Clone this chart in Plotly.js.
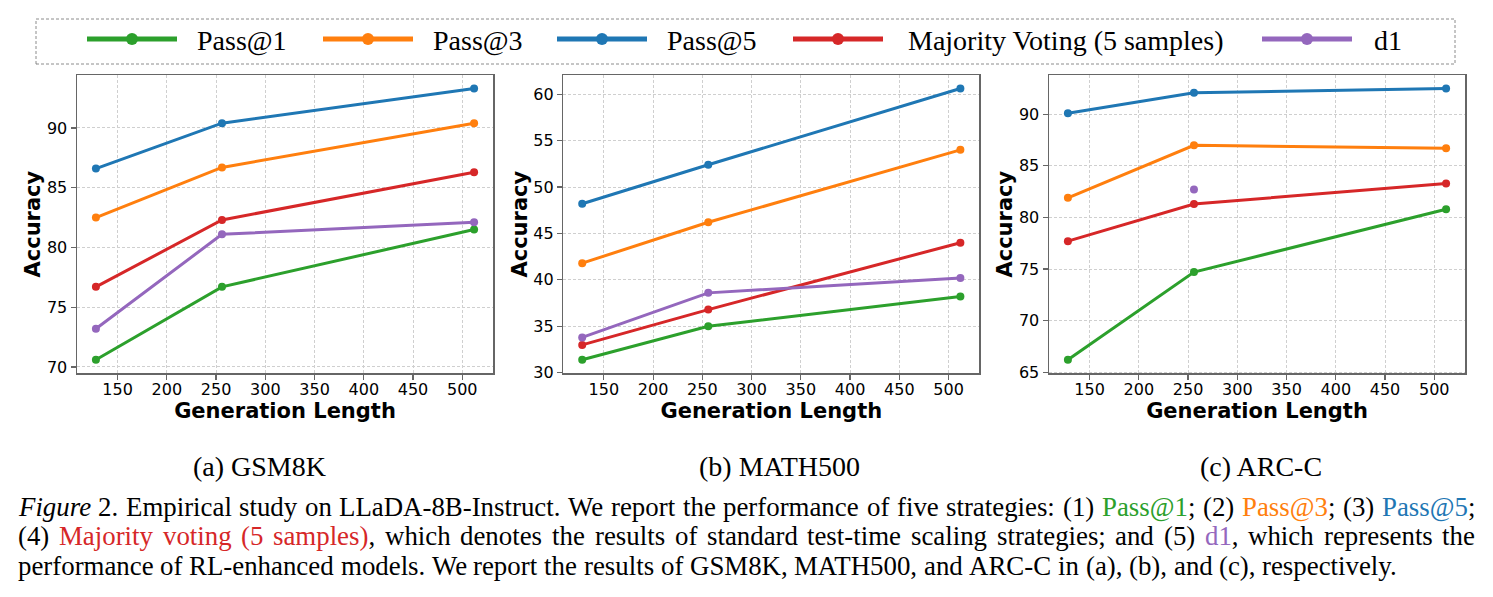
<!DOCTYPE html>
<html>
<head>
<meta charset="utf-8">
<script src="https://cdn.plot.ly/plotly-3.0.1.min.js"></script>
<style>
  html, body { margin: 0; padding: 0; background: #fff; }
  #chart { width: 1493px; height: 597px; }
</style>
</head>
<body>
<div id="chart"></div>
<script>
// ---------------- data ----------------
const genLengths = [128, 256, 512];
const xTicks = [150, 200, 250, 300, 350, 400, 450, 500];

const seriesNames = ["Pass@1", "Pass@3", "Pass@5", "Majority Voting (5 samples)", "d1"];
const seriesColors = ["#2ca02c", "#ff7f0e", "#1f77b4", "#d62728", "#9467bd"];

const gsmPass1 = [70.6, 76.7, 81.5];
const gsmPass3 = [82.5, 86.7, 90.4];
const gsmPass5 = [86.6, 90.4, 93.3];
const gsmMajority = [76.7, 82.3, 86.3];
const gsmD1 = [73.2, 81.1, 82.1];

const mathPass1 = [31.4, 35.0, 38.2];
const mathPass3 = [41.8, 46.2, 54.0];
const mathPass5 = [48.2, 52.4, 60.6];
const mathMajority = [33.0, 36.8, 44.0];
const mathD1 = [33.8, 38.6, 40.2];

const arcPass1 = [66.2, 74.7, 80.8];
const arcPass3 = [81.9, 87.0, 86.7];
const arcPass5 = [90.1, 92.1, 92.5];
const arcMajority = [77.7, 81.3, 83.3];
const arcD1 = [null, 82.7, null];

const gsmYTicks = [70, 75, 80, 85, 90];
const mathYTicks = [30, 35, 40, 45, 50, 55, 60];
const arcYTicks = [65, 70, 75, 80, 85, 90];

const panelLabels = ["(a) GSM8K", "(b) MATH500", "(c) ARC-C"];

// ---------------- layout helpers ----------------
const W = 1493, H = 597;
const px = v => v / W;
const py = v => 1 - v / H;

const panels = [
  { series: [gsmPass1, gsmPass3, gsmPass5, gsmMajority, gsmD1], yticks: gsmYTicks, left: 77, right: 493, labelX: 259 },
  { series: [mathPass1, mathPass3, mathPass5, mathMajority, mathD1], yticks: mathYTicks, left: 563.3, right: 979.3, labelX: 779 },
  { series: [arcPass1, arcPass3, arcPass5, arcMajority, arcD1], yticks: arcYTicks, left: 1049, right: 1465, labelX: 1261 }
];
const plotTop = 75, plotBottom = 373.3;

function padRange(vals) {
  const v = vals.filter(d => d !== null && d !== undefined);
  const lo = Math.min(...v), hi = Math.max(...v);
  const p = (hi - lo) * 0.05;
  return [lo - p, hi + p];
}

const traces = [];
const layout = {
  width: W, height: H,
  margin: { l: 0, r: 0, t: 0, b: 0, pad: 0 },
  paper_bgcolor: "#ffffff",
  plot_bgcolor: "#ffffff",
  showlegend: false,
  shapes: [],
  annotations: []
};

const tickFont = { family: "DejaVu Sans", size: 16, color: "#000" };
const titleFont = { family: "DejaVu Sans", size: 21, color: "#000", weight: "bold" };

panels.forEach((p, i) => {
  const n = i === 0 ? "" : String(i + 1);
  p.series.forEach((vals, s) => {
    traces.push({
      type: "scatter",
      mode: "lines+markers",
      x: genLengths,
      y: vals,
      name: seriesNames[s],
      xaxis: "x" + n,
      yaxis: "y" + n,
      line: { color: seriesColors[s], width: 3 },
      marker: { color: seriesColors[s], size: 8 },
      connectgaps: false
    });
  });
  const xr = padRange(genLengths);
  const yr = padRange([].concat(...p.series));
  const axCommon = {
    showline: true, mirror: true, linecolor: "#666", linewidth: 1.5,
    ticks: "outside", ticklen: 5, tickwidth: 1.2, tickcolor: "#666",
    showgrid: true, gridcolor: "#cfcfcf", gridwidth: 1, griddash: "3px,2px",
    zeroline: false, tickfont: tickFont, fixedrange: true
  };
  layout["xaxis" + n] = Object.assign({}, axCommon, {
    domain: [px(p.left), px(p.right)],
    range: xr, tickmode: "array", tickvals: xTicks,
    anchor: "y" + n, ticklabelstandoff: -4,
    title: { text: "Generation Length", font: titleFont, standoff: 3 }
  });
  layout["yaxis" + n] = Object.assign({}, axCommon, {
    domain: [py(plotBottom), py(plotTop)],
    range: yr, tickmode: "array", tickvals: p.yticks,
    anchor: "x" + n,
    title: { text: "Accuracy", font: titleFont, standoff: 0 }
  });
  layout.annotations.push({
    xref: "paper", yref: "paper", x: px(p.labelX), y: py(466),
    xanchor: "center", yanchor: "middle", showarrow: false,
    text: panelLabels[i],
    font: { family: "Liberation Serif", size: 28, color: "#000" }
  });
});

// ---------------- legend (drawn in a dashed box above the panels) ----------------
layout.shapes.push({
  type: "rect", xref: "paper", yref: "paper",
  x0: px(36), x1: px(1455), y0: py(64), y1: py(19),
  line: { color: "#8c8c8c", width: 1, dash: "3px,2px" }, fillcolor: "rgba(0,0,0,0)"
});
const legendLineStart = [87, 323, 557, 793, 1262];
const legendTextStart = [195, 431, 665, 906, 1372];
const legendY = 39;
seriesNames.forEach((name, s) => {
  const x0 = legendLineStart[s], x1 = x0 + 90, xm = (x0 + x1) / 2;
  layout.shapes.push({
    type: "line", xref: "paper", yref: "paper",
    x0: px(x0), x1: px(x1), y0: py(legendY), y1: py(legendY),
    line: { color: seriesColors[s], width: 5 }
  });
  layout.shapes.push({
    type: "circle", xref: "paper", yref: "paper",
    x0: px(xm - 6), x1: px(xm + 6), y0: py(legendY + 6), y1: py(legendY - 6),
    line: { width: 0 }, fillcolor: seriesColors[s]
  });
  layout.annotations.push({
    xref: "paper", yref: "paper", x: px(legendTextStart[s]), y: py(40),
    xanchor: "left", yanchor: "middle", showarrow: false,
    text: name, font: { family: "Liberation Serif", size: 28, color: "#000" }
  });
});

// ---------------- figure caption ----------------
const capSize = 26.85;
const capFamily = "Liberation Serif";
const capLeft = 17, capRight = 1474;
const C = seriesColors;
const captionLines = [
  { y: 507, justify: true, parts: [
    ["Figure", "#000", true], [" 2. Empirical study on LLaDA-8B-Instruct. We report the performance of five strategies: (1) ", "#000"],
    ["Pass@1", C[0]], ["; (2) ", "#000"], ["Pass@3", C[1]], ["; (3) ", "#000"], ["Pass@5", C[2]], [";", "#000"] ] },
  { y: 536, justify: true, parts: [
    ["(4) ", "#000"], ["Majority voting (5 samples)", C[3]],
    [", which denotes the results of standard test-time scaling strategies; and (5) ", "#000"],
    ["d1", C[4]], [", which represents the", "#000"] ] },
  { y: 566, justify: false, parts: [
    ["performance of RL-enhanced models. We report the results of GSM8K, MATH500, and ARC-C in (a), (b), and (c), respectively.", "#000"] ] }
];

const cv = document.createElement("canvas").getContext("2d");
function measure(t, italic) {
  cv.font = (italic ? "italic " : "") + capSize + "px \"" + capFamily + "\"";
  return cv.measureText(t).width;
}
function esc(t) { return t.replace(/&/g, "&amp;").replace(/</g, "&lt;"); }
function pieceHTML(t, color, italic) {
  let h = esc(t);
  if (italic) h = "<i>" + h + "</i>";
  return "<span style=\"color:" + color + "\">" + h + "</span>";
}

captionLines.forEach(line => {
  const words = [[]];
  line.parts.forEach(([text, color, italic]) => {
    const chunks = text.split(" ");
    chunks.forEach((ch, k) => {
      if (k > 0) words.push([]);
      if (ch.length) words[words.length - 1].push([ch, color, !!italic]);
    });
  });
  const ws = words.filter(w => w.length);
  const widths = ws.map(w => w.reduce((a, [t, c, it]) => a + measure(t, it), 0));
  const spaceW = measure(" ", false);
  let gap = spaceW;
  if (line.justify) {
    const total = widths.reduce((a, b) => a + b, 0);
    gap = (capRight - capLeft - total) / (ws.length - 1);
  }
  let x = capLeft;
  ws.forEach((w, k) => {
    layout.annotations.push({
      xref: "paper", yref: "paper", x: px(x), y: py(line.y),
      xanchor: "left", yanchor: "middle", showarrow: false,
      text: w.map(([t, c, it]) => pieceHTML(t, c, it)).join(""),
      font: { family: capFamily, size: capSize, color: "#000" },
      borderpad: 0
    });
    x += widths[k] + gap;
  });
});

Plotly.newPlot("chart", traces, layout, { staticPlot: true, displayModeBar: false });
</script>
</body>
</html>
